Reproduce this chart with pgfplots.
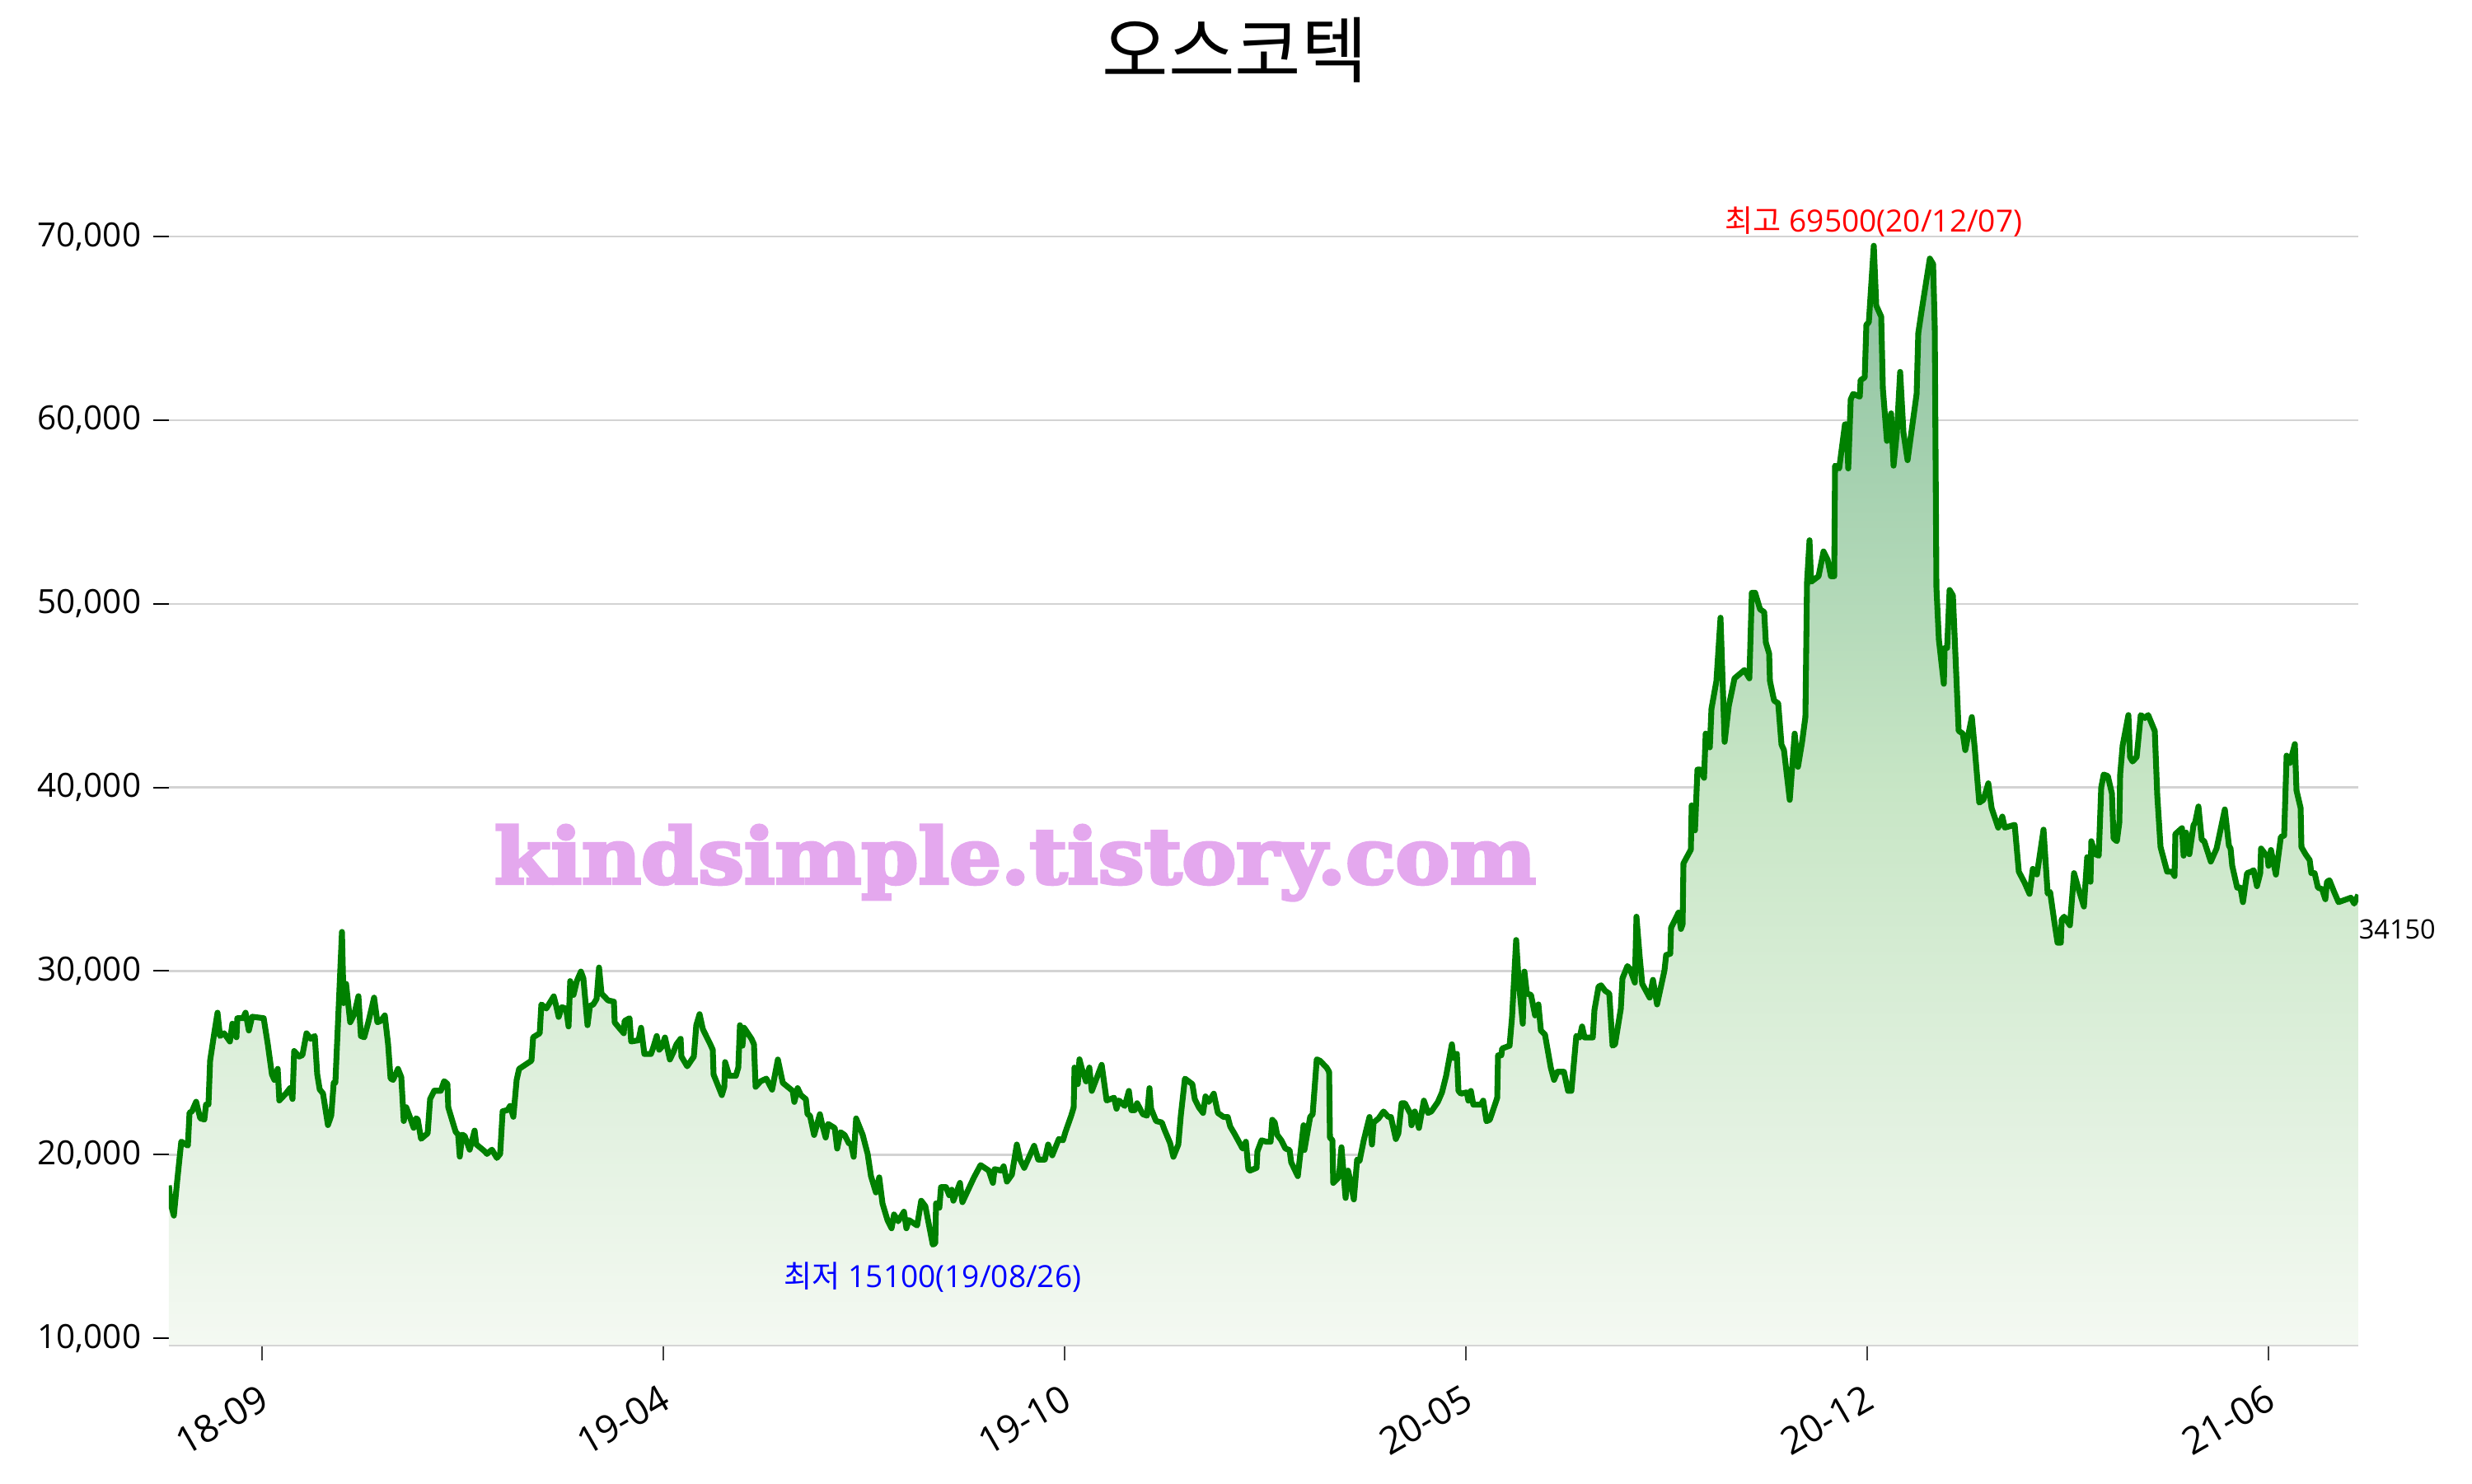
\documentclass[border=0pt]{standalone}
\usepackage{pgfplots}
\usepackage{pgfplotstable}
\pgfplotsset{compat=1.18}
\usepackage{fontspec}
\setmainfont{Open Sans}
\newfontfamily\kr{Noto Sans CJK KR}
\newfontfamily\wm[BoldFeatures={FakeBold=4}]{DejaVu Serif}
\definecolor{linegreen}{RGB}{0,128,0}
\definecolor{gridgray}{RGB}{211,211,211}
\definecolor{filltop}{RGB}{141,194,160}
\definecolor{fillmid}{RGB}{200,230,198}
\definecolor{fillbot}{RGB}{244,249,242}
\definecolor{wmcol}{RGB}{228,168,238}

\pgfplotstableread{
x y
205 9641
205 18325
207 17350
211 16680
215 18550
220 20710
228 20490
230 22280
233 22360
238 22880
243 21980
248 21910
250 22730
253 22730
255 25120
260 26610
264 27730
267 26460
272 26610
279 26160
282 27130
287 26390
288 27430
295 27430
298 27730
302 26760
306 27510
320 27430
325 26010
330 24370
333 24070
337 24670
339 22950
347 23330
352 23620
355 23030
357 25640
363 25340
367 25420
372 26610
377 26310
382 26460
385 24370
388 23550
392 23330
398 21610
402 22130
405 23920
407 23920
415 32130
417 28250
420 29300
425 27210
430 27660
435 28630
438 26460
442 26390
447 27210
454 28550
458 27210
462 27280
467 27580
471 26010
474 24150
477 24070
483 24670
487 24220
490 21830
493 22580
498 21980
502 21460
505 21980
507 21910
511 20860
519 21160
522 23030
527 23480
535 23480
539 24000
543 23850
544 22580
548 21980
553 21240
556 21090
558 19890
561 21090
564 21010
570 20270
576 21310
578 20560
588 20190
591 20040
597 20270
603 19820
607 20040
610 22360
616 22430
619 22650
623 22060
627 24070
630 24670
645 25120
647 26390
655 26610
657 28180
663 27960
672 28620
675 28100
678 27500
682 28030
687 27950
690 26980
692 29450
696 28700
700 29450
705 29970
708 29600
713 27050
716 28100
720 28180
724 28480
727 30190
730 28770
738 28400
745 28330
746 27200
750 26980
757 26610
758 27280
764 27430
766 26160
775 26230
778 26910
782 25480
790 25480
793 25860
797 26460
800 25710
803 25860
807 26380
813 25180
817 25560
821 26010
826 26310
827 25340
834 24810
842 25340
845 27050
849 27650
853 26830
862 26010
865 25710
866 24360
876 23240
879 23690
880 25040
885 24290
893 24290
896 24740
898 27050
901 25930
903 26910
912 26310
915 26010
917 23690
923 23990
930 24140
937 23540
944 25180
950 23910
956 23690
962 23470
964 22870
968 23620
972 23240
978 23020
980 22200
983 22120
988 21070
995 22200
998 21600
1002 20930
1005 21670
1013 21450
1016 20330
1020 21220
1025 21070
1030 20630
1033 20550
1036 19880
1039 21970
1047 21070
1053 20030
1057 18830
1063 17940
1067 18760
1071 17340
1077 16440
1082 15990
1085 16740
1090 16370
1097 16890
1100 15990
1103 16440
1113 16140
1118 17490
1123 17190
1132 15100
1135 15170
1136 17340
1140 17110
1142 18230
1148 18230
1152 17790
1155 18090
1157 17490
1165 18460
1168 17410
1182 18760
1190 19430
1200 19130
1205 18460
1207 19210
1215 19130
1218 19360
1222 18530
1228 18910
1234 20550
1238 19730
1243 19280
1255 20480
1260 19730
1268 19730
1272 20550
1277 19960
1285 20850
1290 20780
1293 21230
1300 22120
1303 22570
1304 24740
1308 23840
1310 25190
1313 24670
1318 23990
1322 24740
1325 23470
1337 24890
1343 22950
1352 23100
1355 22500
1358 22950
1365 22650
1370 23470
1373 22420
1377 22420
1380 22800
1387 22200
1392 22120
1395 23620
1397 22500
1403 21830
1410 21750
1413 21380
1420 20630
1424 19880
1430 20550
1433 22120
1438 24140
1447 23840
1450 23020
1455 22570
1460 22270
1463 23170
1467 22870
1473 23320
1478 22270
1485 22050
1490 22050
1493 21530
1498 21150
1508 20330
1512 20700
1515 19210
1517 19130
1525 19280
1526 20180
1531 20780
1537 20700
1542 20700
1544 21900
1547 21750
1550 21080
1555 20780
1560 20330
1565 20250
1567 19580
1575 18830
1582 21600
1583 20250
1590 22050
1593 22200
1598 25190
1602 25110
1610 24740
1613 24510
1614 20930
1617 20780
1618 18460
1623 18680
1625 18830
1628 20400
1633 17640
1636 19130
1639 18530
1643 17560
1647 19730
1650 19660
1655 20780
1662 22050
1665 20550
1667 21750
1673 21970
1679 22350
1685 22050
1688 22050
1694 20850
1697 21150
1701 22800
1705 22800
1712 22200
1713 21600
1717 22350
1722 21450
1728 22940
1733 22270
1737 22350
1745 22870
1750 23390
1755 24290
1762 26010
1764 25260
1768 25490
1770 23470
1773 23320
1780 23390
1782 22940
1785 23470
1788 22720
1797 22720
1800 22940
1804 21820
1808 21900
1817 23090
1818 25410
1822 25410
1823 25780
1832 25930
1835 27500
1840 31690
1843 29450
1845 28550
1848 27130
1850 29970
1853 28770
1858 28700
1863 27580
1867 28180
1870 26760
1875 26530
1882 24740
1886 24070
1890 24510
1898 24510
1903 23470
1907 23470
1913 26460
1917 26380
1920 26980
1923 26380
1933 26380
1935 27880
1940 29150
1943 29220
1948 28920
1953 28770
1957 25930
1960 26010
1967 27950
1969 29600
1975 30270
1978 30120
1984 29370
1986 32960
1990 30720
1993 29300
2002 28550
2006 29520
2011 28180
2020 30040
2022 30870
2027 30940
2028 32360
2033 32810
2037 33180
2040 32290
2042 32550
2043 35860
2052 36610
2053 39020
2057 37660
2060 40970
2063 40970
2068 40520
2070 42930
2075 42180
2077 44280
2083 45790
2088 49240
2093 42480
2098 44430
2105 45940
2117 46390
2123 45940
2126 50600
2130 50600
2136 49700
2141 49550
2143 47890
2147 47290
2148 45790
2153 44730
2158 44580
2162 42330
2165 42030
2172 39320
2178 42930
2182 41120
2187 42480
2191 43830
2193 51200
2196 53460
2198 51200
2207 51500
2213 52850
2218 52400
2222 51500
2226 51500
2227 57520
2232 57370
2239 59770
2241 59770
2243 57370
2246 61130
2249 61430
2257 61280
2258 62180
2263 62330
2265 65190
2268 65340
2274 69500
2277 66240
2283 65640
2285 61730
2290 58870
2295 60370
2298 57520
2302 59320
2306 62630
2310 59320
2315 57820
2326 61430
2328 64740
2332 65940
2342 68800
2346 68500
2348 65040
2350 50900
2353 48040
2359 45640
2360 47590
2363 47590
2366 50750
2370 50450
2373 47290
2377 43080
2382 42930
2385 42030
2393 43830
2397 41880
2402 39170
2407 39320
2413 40220
2417 38870
2425 37810
2430 38410
2433 37810
2445 37960
2450 35410
2457 34810
2463 34200
2467 35560
2472 35260
2480 37700
2485 34220
2488 34300
2493 32720
2497 31540
2501 31540
2502 32800
2505 32960
2512 32490
2517 35330
2522 34540
2529 33510
2533 36200
2537 34860
2538 37070
2543 36360
2547 36280
2550 39990
2553 40700
2558 40620
2563 39670
2565 37220
2569 37070
2572 38090
2573 40700
2576 42280
2583 43940
2585 41650
2588 41410
2593 41650
2598 43940
2603 43780
2607 43940
2615 43070
2618 39590
2622 36750
2630 35410
2636 35410
2639 35170
2640 37460
2648 37780
2650 36280
2653 37540
2657 36360
2662 37940
2664 38090
2668 38960
2672 37150
2675 37070
2683 35960
2690 36670
2700 38800
2705 36830
2707 36670
2709 35730
2715 34540
2719 34540
2722 33750
2727 35330
2732 35410
2735 35490
2739 34620
2743 35330
2744 36670
2752 36200
2753 35730
2756 36590
2762 35250
2768 37300
2772 37380
2775 41730
2779 41330
2785 42360
2787 39830
2792 38880
2793 36750
2798 36360
2803 36040
2805 35330
2809 35330
2813 34540
2818 34460
2822 33910
2824 34860
2827 34940
2832 34380
2838 33750
2848 33910
2853 33990
2857 33670
2862 34150
2862 9641
}\price

\begin{document}
\begin{tikzpicture}
\begin{axis}[
  scale only axis,
  width=637.68pt, height=333.5pt,
  xmin=205, xmax=2862,
  ymin=9641, ymax=72000,
  clip mode=individual,
  axis x line*=bottom,
  axis y line*=left,
  y axis line style={draw=none},
  x axis line style={draw=gridgray, line width=1pt},
  tick align=outside,
  xtick pos=bottom, ytick pos=left,
  major tick length=4.6pt,
  xtick={318,805,1292,1779,2266,2753},
  xticklabels={18-09,19-04,19-10,20-05,20-12,21-06},
  ytick={10000,20000,30000,40000,50000,60000,70000},
  scaled y ticks=false,
  /pgf/number format/.cd, 1000 sep={,}, assume math mode=true,
  /pgfplots/.cd,
  ymajorgrids=true,
  grid style={draw=gridgray, line width=0.6pt},
  xtick style={draw=black!75, line width=0.35pt},
  ytick style={draw=black, line width=0.5pt},
  yticklabel style={font=\fontsize{9.7}{11}\selectfont, text=black},
  xticklabel style={font=\fontsize{11}{12}\selectfont, text=black, rotate=30, anchor=north east, xshift=-1pt, yshift=-1.5pt},
]
\addplot[draw=none, no markers, top color=filltop, bottom color=fillbot, middle color=fillmid] table {\price};
\addplot[color=linegreen, line width=1.7pt, no markers, line join=round, restrict y to domain=10000:100000] table {\price};
\node[anchor=base, text=wmcol, inner sep=0pt] at (axis cs:1232,34770)
  {\resizebox{303.4pt}{17pt}{\wm\bfseries kindsimple.tistory.com}};
\node[anchor=base, text=red, inner sep=0pt, font=\fontsize{8.9}{10}\selectfont] at (axis cs:2274,70270)
  {{\kr 최고} 69500(20/12/07)};
\node[anchor=base, text=blue, inner sep=0pt, font=\fontsize{8.9}{10}\selectfont] at (axis cs:1132,12780)
  {{\kr 최저} 15100(19/08/26)};
\node[anchor=base west, text=black, inner sep=0pt, font=\fontsize{7.8}{9}\selectfont] at (axis cs:2862,31760)
  {34150};
\end{axis}
\node[inner sep=0pt, font=\kr\fontsize{21}{24}\selectfont] at ([xshift=-8.4pt,yshift=43.7pt]current axis.north) {오스코텍};
\path ([shift={(-49.2pt,-40.32pt)}]current axis.south west) rectangle ([shift={(33.12pt,58.2pt)}]current axis.north east);
\end{tikzpicture}
\end{document}
